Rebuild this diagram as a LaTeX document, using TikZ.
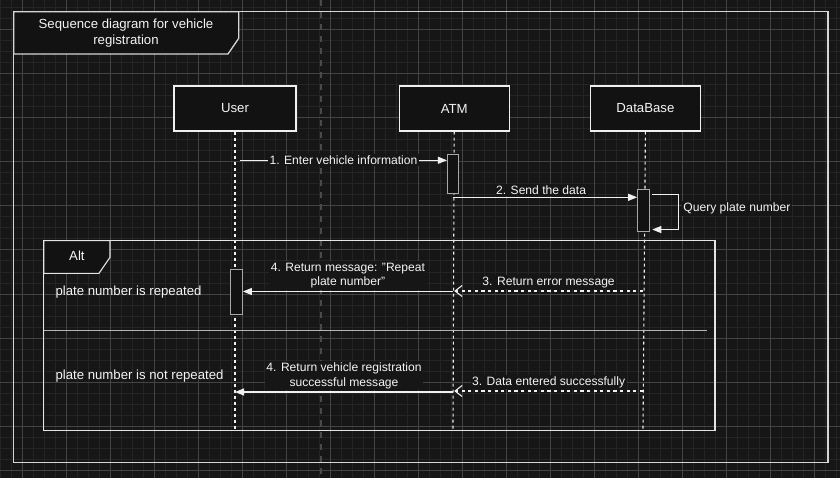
\documentclass[tikz,border=0pt]{standalone}
\usepackage{fontspec}
\setmainfont{Liberation Sans}
\usepackage{tikz}
\usetikzlibrary{positioning,arrows.meta}
\definecolor{bgcol}{HTML}{161616}
\definecolor{minorcol}{HTML}{242424}
\definecolor{majorcol}{HTML}{444444}
\definecolor{breakcol}{HTML}{4A4A4A}
\definecolor{boxfill}{HTML}{121212}
\definecolor{linecol}{HTML}{F0F0F0}
\definecolor{framecol}{HTML}{D6D6D6}
\definecolor{altcol}{HTML}{E4E4E4}
\definecolor{divcol}{HTML}{B4B4B4}
\definecolor{actcol}{HTML}{A8A8A8}
\definecolor{txtcol}{HTML}{F4F4F4}
\newcommand\vtxtfont{\fontsize{13.2}{15.8}\selectfont}
\newcommand\etxtfont{\fontsize{12.1}{14.8}\selectfont}

\begin{document}
\begin{tikzpicture}[x=1pt, y=-1pt,
    minorgrid/.style={draw=minorcol, line width=1pt},
    majorgrid/.style={draw=majorcol, line width=1pt},
    pagebreak/.style={draw=breakcol, line width=2pt, dash pattern=on 6pt off 6pt},
    umlframe/.style={draw=framecol, line width=1.3pt, inner sep=0pt, outer sep=0pt, anchor=north west},
    headbox/.style={draw=linecol, fill=boxfill, line width=1.2pt, minimum width=110pt, minimum height=45pt, text=txtcol, font=\vtxtfont},
    actbox/.style={draw=actcol, fill=boxfill, line width=1.1pt, minimum width=11pt, inner sep=0pt},
    lifeline/.style={draw=linecol, line width=1.1pt, dash pattern=on 3pt off 3pt},
    msg/.style={draw=linecol, line width=1.1pt, -{Triangle[length=9pt,width=7pt]}},
    retmsg/.style={draw=linecol, line width=1.1pt, dash pattern=on 3.3pt off 3.3pt, -{Straight Barb[length=7pt,width=11pt]}},
    msglabel/.style={fill=bgcol, inner sep=1.5pt, text=txtcol, font=\etxtfont, align=center},
    condtext/.style={inner sep=0pt, text=txtcol, font=\vtxtfont, anchor=west}
]
\path[use as bounding box, fill=bgcol] (0,0) rectangle (840,478);
\foreach \gx in {0.3,11.3,...,840} \draw[minorgrid] (\gx,0) -- (\gx,478);
\foreach \gy in {8,19,...,478} \draw[minorgrid] (0,\gy) -- (840,\gy);
\foreach \gx in {22.3,66.3,...,840} \draw[majorgrid] (\gx,0) -- (\gx,478);
\foreach \gy in {30,74,...,478} \draw[majorgrid] (0,\gy) -- (840,\gy);
\draw[pagebreak] (321,0) -- (321,478);

\node[umlframe, minimum width=814.3pt, minimum height=450.6pt](frame) at (13.7,11.7){};
\draw[draw=framecol, fill=boxfill, line width=1.3pt] (frame.north west) -- ++(225,0) -- ++(0,26.6) -- ++(-10.7,15.7) -- ++(-214.3,0) -- cycle;
\node[text=txtcol, font=\vtxtfont, align=center](title) at (126,33){Sequence diagram for vehicle\\registration};

\node[headbox, minimum width=122pt](user) at (235,108.5){User};
\node[headbox](atm)[right=102pt of user]{ATM};
\node[headbox](db)[right=80pt of atm]{DataBase};
\coordinate (userend) at (235,430);
\coordinate (atmend) at (453,430);
\coordinate (dbend) at (643,430);
\draw[lifeline] (user.south) -- (userend);
\draw[lifeline] (atm.south) -- (atmend);
\draw[lifeline] (db.south) -- (dbend);

\node[umlframe, draw=altcol, line width=1.1pt, minimum width=671.3pt, minimum height=190pt](alt) at (43.7,240.7){};
\draw[draw=altcol, fill=boxfill, line width=1.1pt] (alt.north west) -- ++(66.3,0) -- ++(0,16.6) -- ++(-11,16) -- ++(-55.3,0) -- cycle;
\node[text=txtcol, font=\vtxtfont](altlabel) at (76.9,256){Alt};
\draw[draw=divcol, line width=1.1pt] ([yshift=-90pt]alt.north west) -- ++(663.6,0);
\node[condtext](cond1) at (55.3,291.7){plate number is repeated};
\node[condtext](cond2) at (55.3,375.7){plate number is not repeated};

\node[actbox, minimum height=39pt](atmact) at (453,173.8){};
\node[actbox, minimum height=42.4pt, minimum width=11.6pt](dbact) at (643.5,210.5){};
\node[actbox, minimum height=44.7pt, minimum width=11.6pt](useract) at (236.5,291.7){};

\coordinate (m1start) at (240,160.3);
\draw[msg] (m1start) -- (m1start -| atmact.west) node[msglabel, midway]{1. Enter vehicle information};
\coordinate (m2start) at (453,197.3);
\draw[msg] (m2start) -- (m2start -| dbact.west) node[msglabel, midway, above=1pt, xshift=-4pt]{2. Send the data};
\draw[msg] ([xshift=2.4pt, yshift=-5.7pt]dbact.north east) -- ++(26.6,0) |- ([xshift=2.4pt, yshift=2.7pt]dbact.south east) node[msglabel, pos=0.2, right=2.5pt]{Query plate number};

\coordinate (m3astart) at (643,291);
\draw[retmsg] (m3astart) -- (m3astart -| atm) node[msglabel, midway, above=1pt]{3. Return error message};
\coordinate (m4astart) at (453,291.5);
\draw[msg] (m4astart) -- (m4astart -| useract.east) node[msglabel, midway, above=1pt]{4. Return message: "Repeat\\plate number"};

\coordinate (m3bstart) at (643,391);
\draw[retmsg] (m3bstart) -- (m3bstart -| atm) node[msglabel, midway, above=1pt]{3. Data entered successfully};
\coordinate (m4bstart) at (453,392);
\draw[msg] (m4bstart) -- (m4bstart -| user) node[msglabel, midway, above=1pt]{4. Return vehicle registration\\successful message};
\end{tikzpicture}
\end{document}
